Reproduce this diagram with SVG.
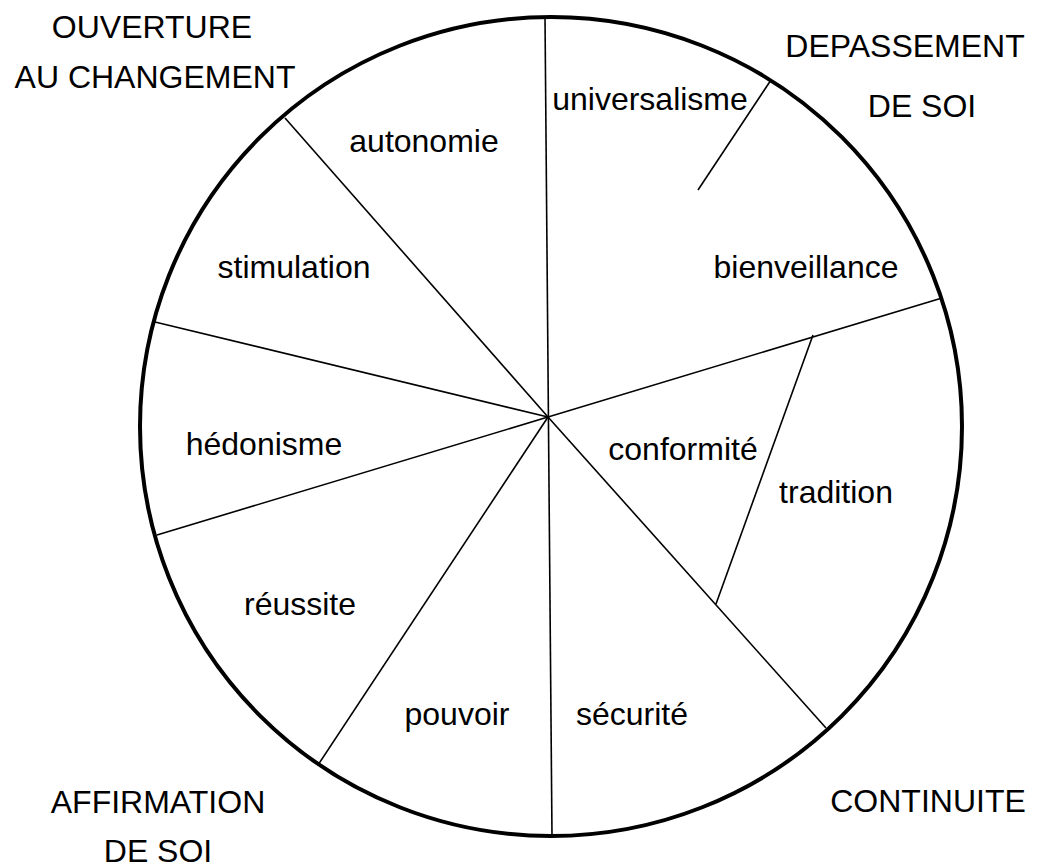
<svg xmlns="http://www.w3.org/2000/svg" width="1048" height="867" viewBox="0 0 1048 867">
<style>
text { font-family: "Liberation Sans", Arial, sans-serif; font-size: 32px; fill: #000; text-anchor: middle; }
.spoke { stroke: #000; stroke-width: 1.6; fill: none; }
.rim { stroke: #000; stroke-width: 4; fill: #fff; }
</style>
<rect width="1048" height="867" fill="#fff"/>
<g id="circle"><ellipse class="rim" cx="551" cy="426.5" rx="411" ry="409.5"/></g>
<g id="connectors">
<line class="spoke" x1="545" y1="17" x2="552" y2="836"/>
<line class="spoke" x1="771" y1="80" x2="698" y2="190"/>
<line class="spoke" x1="285" y1="118" x2="548" y2="417"/>
<line class="spoke" x1="155" y1="322" x2="548" y2="417"/>
<line class="spoke" x1="157" y1="535" x2="548" y2="417"/>
<line class="spoke" x1="318" y1="765" x2="548" y2="417"/>
<line class="spoke" x1="548" y1="417" x2="826" y2="728"/>
<line class="spoke" x1="548" y1="417" x2="942" y2="298"/>
<line class="spoke" x1="813" y1="335" x2="716" y2="604"/>
</g>
<g id="groups">
<g id="ouverture"><text x="152" y="38">OUVERTURE</text><text x="155" y="88">AU CHANGEMENT</text></g>
<g id="depassement"><text x="905" y="57">DEPASSEMENT</text><text x="922" y="117">DE SOI</text></g>
<g id="continuite"><text x="928" y="812">CONTINUITE</text></g>
<g id="affirmation"><text x="158" y="813">AFFIRMATION</text><text x="158" y="862">DE SOI</text></g>
</g>
<g id="universalisme"><text x="650" y="110">universalisme</text></g>
<g id="autonomie"><text x="424" y="152">autonomie</text></g>
<g id="stimulation"><text x="294" y="278">stimulation</text></g>
<g id="bienveillance"><text x="806" y="278">bienveillance</text></g>
<g id="hedonisme"><text x="264" y="455">hédonisme</text></g>
<g id="conformite"><text x="683" y="460">conformité</text></g>
<g id="tradition"><text x="836" y="503">tradition</text></g>
<g id="reussite"><text x="300" y="615">réussite</text></g>
<g id="pouvoir"><text x="457" y="725">pouvoir</text></g>
<g id="securite"><text x="632" y="725">sécurité</text></g>
</svg>
